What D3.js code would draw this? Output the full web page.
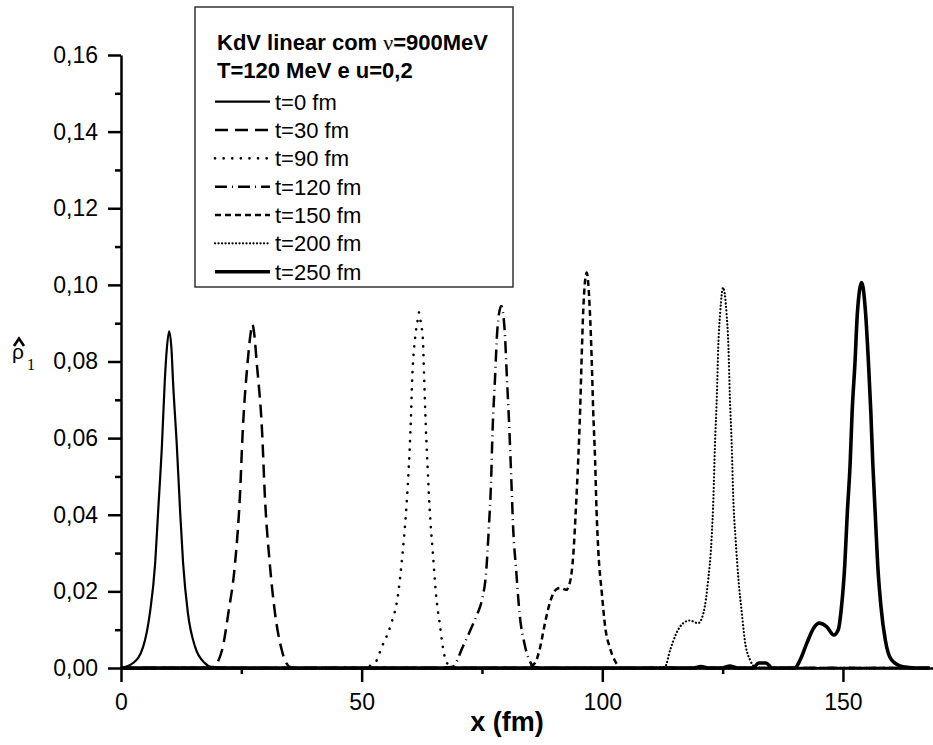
<!DOCTYPE html>
<html>
<head>
<meta charset="utf-8">
<script src="https://cdn.jsdelivr.net/npm/d3@7"></script>
<style>
  body { margin: 0; background: #fff; }
  svg { display: block; font-family: "Liberation Sans", Arial, sans-serif; }
</style>
</head>
<body>
<svg id="chart" width="933" height="745"></svg>
<script>
// tick values
var xTicks = [0, 50, 100, 150];
var xMinor = [25, 75, 125];
var yTicks = [0, 0.02, 0.04, 0.06, 0.08, 0.10, 0.12, 0.14, 0.16];
var yMinor = [0.01, 0.03, 0.05, 0.07, 0.09, 0.11, 0.13, 0.15];

// legend labels
var labels = ["t=0 fm", "t=30 fm", "t=90 fm", "t=120 fm", "t=150 fm", "t=200 fm", "t=250 fm"];

// curves: [x (fm), rho]
var t0 = [[0,0],[2.5,0.0013],[4.6,0.0055],[6.0,0.0143],[7.1,0.0274],[7.7,0.0405],[8.5,0.058],[9.1,0.075],
  [9.5,0.083],[10.0,0.0879],[10.5,0.083],[10.8,0.075],[11.6,0.058],[12.3,0.0405],[12.9,0.0274],[13.9,0.0143],
  [15.4,0.0055],[17.4,0.0013],[19,0.0002],[25,0],[168,0]];
var t30 = [[0,0],[17,0],[19.1,0.0003],[21.0,0.0047],[22.3,0.0143],[23.7,0.0274],[24.7,0.0447],[25.3,0.062],
  [26.3,0.0797],[26.9,0.087],[27.3,0.0897],[27.7,0.087],[28.2,0.0797],[29.3,0.062],[29.9,0.0447],[30.9,0.0274],
  [32.0,0.0143],[33.4,0.0047],[35.1,0.0003],[37,0],[168,0]];
var t90 = [[0,0],[50,0],[52.9,0.0016],[54.1,0.0052],[56.2,0.0118],[57.5,0.0186],[58.5,0.030],[59.3,0.0421],
  [59.8,0.0526],[60.2,0.064],[60.5,0.0753],[61.1,0.0862],[61.55,0.090],[61.9,0.0928],[62.3,0.090],[62.7,0.0862],
  [63.0,0.0753],[63.3,0.064],[63.7,0.0526],[64.1,0.0421],[64.8,0.030],[65.5,0.0186],[66.2,0.0118],[66.9,0.0052],
  [67.6,0.0016],[69,0],[168,0]];
var t120 = [[0,0],[66,0],[68.9,0.0003],[71.0,0.0055],[72.8,0.0105],[74.1,0.0143],[75.0,0.0178],[75.9,0.0256],
  [76.4,0.036],[76.9,0.049],[77.2,0.062],[77.7,0.0753],[78.2,0.0884],[79.0,0.0945],[79.7,0.0884],[80.2,0.0753],
  [80.7,0.062],[81.1,0.049],[81.5,0.036],[82.1,0.0256],[82.8,0.0143],[83.8,0.0065],[85.0,0.0016],[85.9,0.0003],
  [88,0],[168,0]];
var t150 = [[0,0],[84,0],[86.0,0.0013],[87.1,0.0055],[88.1,0.0118],[89.1,0.017],[90.4,0.0205],[91.3,0.0209],
  [92.5,0.0204],[93.3,0.0225],[94.0,0.030],[94.5,0.0413],[95.0,0.0544],[95.4,0.0675],[95.7,0.0805],[96.05,0.0936],
  [96.75,0.1032],[97.4,0.0936],[97.8,0.0805],[98.1,0.0675],[98.5,0.0544],[98.8,0.0413],[99.2,0.030],[99.9,0.0196],
  [100.6,0.0107],[101.6,0.0052],[102.8,0.0015],[104,0],[168,0]];
var t200 = [[0,0],[110,0],[113.0,0.0003],[114.1,0.0047],[115.4,0.0091],[116.8,0.0117],[118.2,0.0124],[119.9,0.0117],
  [121.0,0.0143],[122.0,0.023],[122.7,0.0335],[123.1,0.0448],[123.4,0.0579],[123.8,0.0709],[124.1,0.084],
  [124.5,0.0928],[125.1,0.0993],[125.8,0.0928],[126.2,0.084],[126.5,0.0709],[126.9,0.0579],[127.2,0.0448],
  [127.7,0.0335],[128.3,0.023],[129.0,0.0143],[129.6,0.0073],[130.7,0.0021],[131.7,0.0003],[133,0],[168,0]];
var t250 = [[0,0],[119,0],[120.5,0.0004],[122,0],[125,0],[126.5,0.0005],[128,0],[131.3,0],[132.5,0.0013],
  [134,0.0013],[135.3,0],[140.0,0],[141.1,0.0021],[142.5,0.0065],[143.9,0.0104],[145.1,0.0117],[146.6,0.0108],
  [148.1,0.0086],[149.0,0.0099],[149.7,0.016],[150.4,0.0274],[150.9,0.0404],[151.5,0.0535],[151.9,0.0666],
  [152.5,0.0797],[153.0,0.0927],[153.9,0.1006],[154.7,0.0927],[155.3,0.0797],[155.8,0.0666],[156.2,0.0535],
  [156.7,0.0404],[157.2,0.0274],[157.9,0.016],[158.8,0.0073],[160.1,0.0021],[162.5,0.0003],[165,0],[168,0]];

var series = [t0, t30, t90, t120, t150, t200, t250];

// line styles, same order as series
var styles = [
  {w: 2.2, dash: null, cap: "butt"},
  {w: 2.5, dash: "13,7", cap: "butt"},
  {w: 2.6, dash: "0.1,8.5", cap: "round"},
  {w: 2.5, dash: "12,5,1,5", cap: "butt"},
  {w: 2.5, dash: "6,4", cap: "butt"},
  {w: 2.2, dash: "0.1,3.4", cap: "round"},
  {w: 3.6, dash: null, cap: "butt"}
];

var svg = d3.select("#chart");
var plotLeft = 121, plotRight = 933, plotBottom = 668, plotTop = 55;

var x = d3.scaleLinear().domain([0, (plotRight - plotLeft) / 4.813]).range([plotLeft, plotRight]);
var y = d3.scaleLinear().domain([0, 0.16]).range([plotBottom, plotTop]);

var comma = d3.formatLocale({decimal: ",", thousands: ".", grouping: [3], currency: ["", ""]}).format(".2f");

// axes
var gx = svg.append("g").attr("transform", "translate(0," + plotBottom + ")")
  .call(d3.axisBottom(x).tickValues(xTicks).tickSize(14).tickSizeOuter(0).tickPadding(12).tickFormat(d3.format("d")));
var gxm = svg.append("g").attr("transform", "translate(0," + plotBottom + ")")
  .call(d3.axisBottom(x).tickValues(xMinor).tickSize(6).tickFormat(""));
var gy = svg.append("g").attr("transform", "translate(" + plotLeft + ",0)")
  .call(d3.axisLeft(y).tickValues(yTicks).tickSize(13).tickSizeOuter(0).tickPadding(10).tickFormat(comma));
var gym = svg.append("g").attr("transform", "translate(" + plotLeft + ",0)")
  .call(d3.axisLeft(y).tickValues(yMinor).tickSize(6).tickFormat(""));

[gx, gxm, gy, gym].forEach(function(g) {
  g.selectAll("path, line").attr("stroke", "#000").attr("stroke-width", 2.5);
  g.selectAll("text").attr("fill", "#000").attr("font-size", 23)
    .attr("font-family", "Liberation Sans, Arial, sans-serif");
});
gxm.select(".domain").remove();
gym.select(".domain").remove();

// curves
var line = d3.line()
  .x(function(d) { return x(d[0]); })
  .y(function(d) { return y(d[1]); })
  .curve(d3.curveMonotoneX);

svg.append("g").selectAll("path")
  .data(series)
  .enter()
  .append("path")
  .attr("d", line)
  .attr("fill", "none")
  .attr("stroke", "#000")
  .attr("stroke-width", function(d, i) { return styles[i].w; })
  .attr("stroke-dasharray", function(d, i) { return styles[i].dash; })
  .attr("stroke-linecap", function(d, i) { return styles[i].cap; });

// axis titles
svg.append("text")
  .attr("x", 507).attr("y", 731)
  .attr("text-anchor", "middle")
  .attr("font-size", 27).attr("font-weight", "bold")
  .text("x (fm)");

svg.append("text")
  .attr("x", 12).attr("y", 359)
  .attr("font-size", 21)
  .text("\u03C1");
svg.append("path")
  .attr("d", "M14,346 L19,338.5 L24,346")
  .attr("fill", "none").attr("stroke", "#000").attr("stroke-width", 2.6);
svg.append("text")
  .attr("x", 27).attr("y", 370)
  .attr("font-size", 16).attr("fill", "#000")
  .attr("font-family", "Liberation Serif, Times New Roman, serif")
  .text("1");

// legend
var legend = svg.append("g");
legend.append("rect")
  .attr("x", 195).attr("y", 7).attr("width", 318).attr("height", 280)
  .attr("fill", "#fff").attr("stroke", "#333").attr("stroke-width", 1.5);

var title1 = legend.append("text")
  .attr("x", 217).attr("y", 50)
  .attr("font-size", 22).attr("font-weight", "bold");
title1.append("tspan").text("KdV linear com ");
title1.append("tspan").attr("font-weight", "normal")
  .attr("font-family", "Liberation Serif, Times New Roman, serif").text("\u03BD");
title1.append("tspan").text("=900MeV");

legend.append("text")
  .attr("x", 217).attr("y", 78)
  .attr("font-size", 22).attr("font-weight", "bold")
  .text("T=120 MeV e u=0,2");

var rows = legend.selectAll("g.row")
  .data(labels)
  .enter()
  .append("g")
  .attr("class", "row")
  .attr("transform", function(d, i) { return "translate(0," + (101.7 + i * 28.33) + ")"; });

rows.append("line")
  .attr("x1", 215).attr("x2", 270).attr("y1", 0).attr("y2", 0)
  .attr("stroke", "#000")
  .attr("stroke-width", function(d, i) { return styles[i].w; })
  .attr("stroke-dasharray", function(d, i) { return styles[i].dash; })
  .attr("stroke-linecap", function(d, i) { return styles[i].cap; });

rows.append("text")
  .attr("x", 275).attr("y", 8)
  .attr("font-size", 22)
  .text(function(d) { return d; });
</script>
</body>
</html>
